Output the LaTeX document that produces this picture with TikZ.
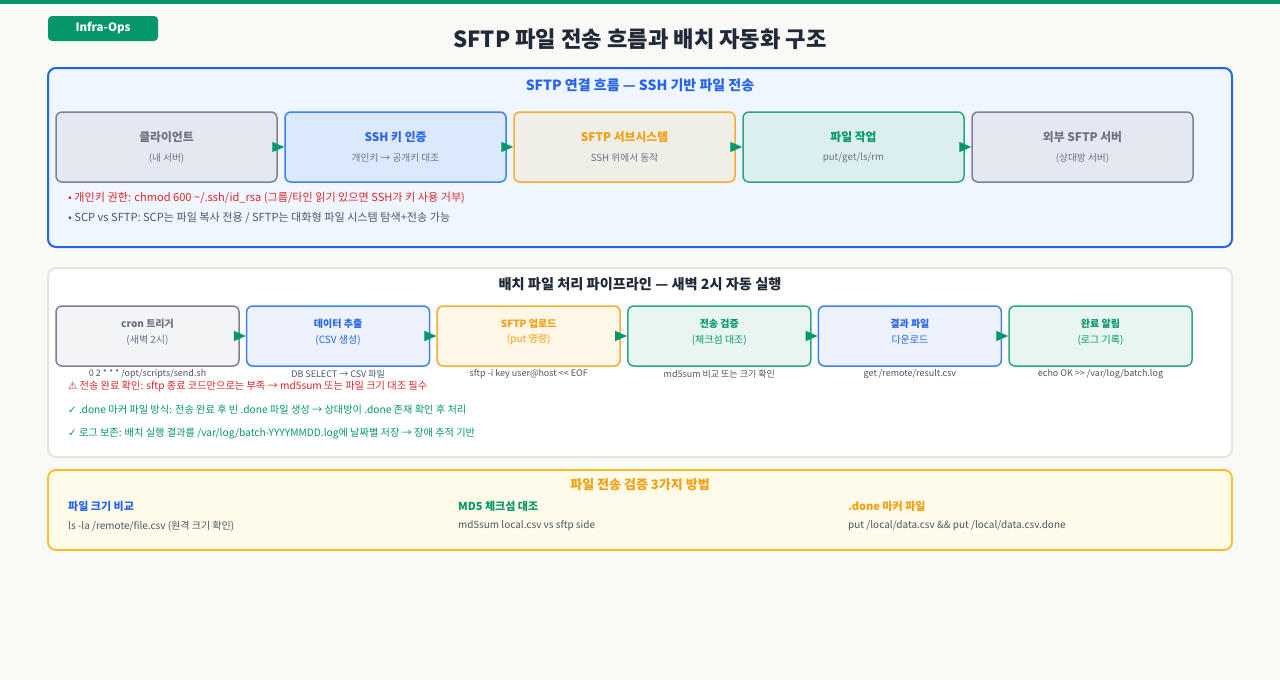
\documentclass[tikz,border=0pt]{standalone}
\usepackage{fontspec}
\setmainfont{Noto Sans CJK KR}
\newfontfamily\sym{DejaVu Sans}
\usetikzlibrary{arrows.meta}
\definecolor{bg}{HTML}{F9F9F5}
\definecolor{gr}{HTML}{059669}
\definecolor{bl}{HTML}{2563EB}
\definecolor{blb}{HTML}{3B82F6}
\definecolor{orn}{HTML}{F59E0B}
\definecolor{gy}{HTML}{6B7280}
\definecolor{gyb}{HTML}{7B8190}
\definecolor{rd}{HTML}{DC2626}
\definecolor{dk}{HTML}{1F2937}
\definecolor{txt}{HTML}{4B5563}
\tikzset{
  sec/.style={rounded corners=8pt},
  boxA/.style={draw, line width=1.5pt, rounded corners=6pt, minimum width=221pt, minimum height=70pt, inner sep=0pt},
  boxB/.style={draw, line width=1.5pt, rounded corners=6pt, minimum width=183pt, minimum height=60pt, inner sep=0pt},
  ttlA/.style={font=\bfseries\fontsize{11.8}{13}\selectfont, inner sep=0pt},
  subA/.style={font=\fontsize{9.7}{11}\selectfont, text=gy, inner sep=0pt},
  ttlB/.style={font=\bfseries\fontsize{10}{12}\selectfont, inner sep=0pt},
  subB/.style={font=\fontsize{10}{12}\selectfont, inner sep=0pt},
  capt/.style={font=\fontsize{9}{10}\selectfont, text=txt, inner sep=0pt},
  note/.style={font=\fontsize{11.1}{13}\selectfont, anchor=west, inner sep=0pt},
  noteB/.style={font=\fontsize{10.2}{12}\selectfont, anchor=west, inner sep=0pt},
  flow/.style={gr, line width=1pt, -{Triangle[length=12pt,width=10pt]}, shorten <=-4pt},
}
\begin{document}
\begin{tikzpicture}[x=1pt,y=-1pt]
\fill[bg] (0,0) rectangle (1280,680);
\useasboundingbox (0,0) rectangle (1280,680);
\fill[gr] (0,0) rectangle (1280,4);
% badge
\node[fill=gr, rounded corners=4pt, minimum width=110pt, minimum height=25pt, inner sep=0pt, text=white, font=\bfseries\fontsize{11.5}{13}\selectfont] (badge) at (103,28.5) {Infra-Ops};
\node[font=\bfseries\fontsize{22.2}{25}\selectfont, text=dk, inner sep=0pt] (title) at (640,39) {SFTP 파일 전송 흐름과 배치 자동화 구조};

% section 1
\draw[sec, fill={rgb,255:red,239;green,246;blue,255}, draw=bl, line width=2pt] (48,68) rectangle (1232,247);
\node[font=\bfseries\fontsize{14}{16}\selectfont, text=bl, inner sep=0pt] (s1t) at (640,85) {SFTP 연결 흐름 — SSH 기반 파일 전송};

\node[boxA, draw=gyb, fill={rgb,255:red,228;green,233;blue,241}] (a1) at (166.5,147) {};
\node[boxA, draw=blb, fill={rgb,255:red,220;green,233;blue,253}] (a2) at (395.5,147) {};
\node[boxA, draw=orn!85, fill={rgb,255:red,240;green,239;blue,231}] (a3) at (624.5,147) {};
\node[boxA, draw=gr!85, fill={rgb,255:red,219;green,239;blue,240}] (a4) at (853.5,147) {};
\node[boxA, draw=gyb, fill={rgb,255:red,228;green,233;blue,241}] (a5) at (1082.5,147) {};

\node[ttlA, text=gy] (a1t) at ([yshift=10pt]a1.center) {클라이언트};
\node[subA] (a1s) at ([yshift=-11pt]a1.center) {(내 서버)};
\node[ttlA, text=bl] (a2t) at ([yshift=10pt]a2.center) {SSH 키 인증};
\node[subA] (a2s) at ([yshift=-11pt]a2.center) {개인키 → 공개키 대조};
\node[ttlA, text=orn] (a3t) at ([yshift=10pt]a3.center) {SFTP 서브시스템};
\node[subA] (a3s) at ([yshift=-11pt]a3.center) {SSH 위에서 동작};
\node[ttlA, text=gr] (a4t) at ([yshift=10pt]a4.center) {파일 작업};
\node[subA] (a4s) at ([yshift=-11pt]a4.center) {put/get/ls/rm};
\node[ttlA, text=gy] (a5t) at ([yshift=10pt]a5.center) {외부 SFTP 서버};
\node[subA] (a5s) at ([yshift=-11pt]a5.center) {(상대방 서버)};

\draw[flow] (a1) -- (a2);
\draw[flow] (a2) -- (a3);
\draw[flow] (a3) -- (a4);
\draw[flow] (a4) -- (a5);

\node[note, text=rd] (n1) at (68,198) {• 개인키 권한: chmod 600 \textasciitilde/.ssh/id\_rsa (그룹/타인 읽기 있으면 SSH가 키 사용 거부)};
\node[note, text=txt] (n2) at (68,218) {• SCP vs SFTP: SCP는 파일 복사 전용 / SFTP는 대화형 파일 시스템 탐색+전송 가능};

% section 2
\draw[sec, fill=white, draw={rgb,255:red,229;green,231;blue,222}, line width=2pt] (48,268) rectangle (1232,457);
\node[font=\bfseries\fontsize{14.2}{16}\selectfont, text=dk, inner sep=0pt] (s2t) at (640,284) {배치 파일 처리 파이프라인 — 새벽 2시 자동 실행};

\node[boxB, draw=gyb, fill={rgb,255:red,243;green,244;blue,246}] (b1) at (147.5,336) {};
\node[boxB, draw=blb, fill={rgb,255:red,237;green,242;blue,253}] (b2) at (338.1,336) {};
\node[boxB, draw=orn!85, fill={rgb,255:red,254;green,246;blue,231}] (b3) at (528.7,336) {};
\node[boxB, draw=gr!85, fill={rgb,255:red,232;green,246;blue,239}] (b4) at (719.3,336) {};
\node[boxB, draw=blb, fill={rgb,255:red,237;green,242;blue,253}] (b5) at (909.9,336) {};
\node[boxB, draw=gr!85, fill={rgb,255:red,232;green,246;blue,239}] (b6) at (1100.5,336) {};

\node[ttlB, text=gy] (b1t) at ([yshift=12pt]b1.center) {cron 트리거};
\node[subB, text=gy] (b1s) at ([yshift=-4pt]b1.center) {(새벽 2시)};
\node[ttlB, text=bl] (b2t) at ([yshift=12pt]b2.center) {데이터 추출};
\node[subB, text=bl] (b2s) at ([yshift=-4pt]b2.center) {(CSV 생성)};
\node[ttlB, text=orn] (b3t) at ([yshift=12pt]b3.center) {SFTP 업로드};
\node[subB, text=orn] (b3s) at ([yshift=-4pt]b3.center) {(put 명령)};
\node[ttlB, text=gr] (b4t) at ([yshift=12pt]b4.center) {전송 검증};
\node[subB, text=gr] (b4s) at ([yshift=-4pt]b4.center) {(체크섬 대조)};
\node[ttlB, text=bl] (b5t) at ([yshift=12pt]b5.center) {결과 파일};
\node[subB, text=bl] (b5s) at ([yshift=-4pt]b5.center) {다운로드};
\node[ttlB, text=gr] (b6t) at ([yshift=12pt]b6.center) {완료 알림};
\node[subB, text=gr] (b6s) at ([yshift=-4pt]b6.center) {(로그 기록)};

\draw[flow] (b1) -- (b2);
\draw[flow] (b2) -- (b3);
\draw[flow] (b3) -- (b4);
\draw[flow] (b4) -- (b5);
\draw[flow] (b5) -- (b6);

\node[capt] (c1) at (147.5,374) {0 2 * * * /opt/scripts/send.sh};
\node[capt] (c2) at (338.1,374) {DB SELECT → CSV 파일};
\node[capt] (c3) at (528.7,374) {sftp -i key user@host <{}< EOF};
\node[capt] (c4) at (719.3,374) {md5sum 비교 또는 크기 확인};
\node[capt] (c5) at (909.9,374) {get /remote/result.csv};
\node[capt] (c6) at (1100.5,374) {echo OK >{}> /var/log/batch.log};

\node[noteB, text=rd] (m1) at (68,386) {{\sym ⚠} 전송 완료 확인: sftp 종료 코드만으로는 부족 → md5sum 또는 파일 크기 대조 필수};
\node[noteB, text=gr] (m2) at (68,410) {{\sym ✓} .done 마커 파일 방식: 전송 완료 후 빈 .done 파일 생성 → 상대방이 .done 존재 확인 후 처리};
\node[noteB, text=gr] (m3) at (68,434) {{\sym ✓} 로그 보존: 배치 실행 결과를 /var/log/batch-YYYYMMDD.log에 날짜별 저장 → 장애 추적 기반};

% section 3
\draw[sec, fill={rgb,255:red,254;green,251;blue,234}, draw={rgb,255:red,251;green,191;blue,36}, line width=1.8pt] (48,470) rectangle (1232,550);
\node[font=\bfseries\fontsize{13}{15}\selectfont, text=orn, inner sep=0pt] (s3t) at (640,485) {파일 전송 검증 3가지 방법};
\node[note, font=\bfseries\fontsize{11}{13}\selectfont, text=bl] (h1) at (68,506) {파일 크기 비교};
\node[noteB, font=\fontsize{10}{12}\selectfont, text=txt] (d1) at (68,526) {ls -la /remote/file.csv (원격 크기 확인)};
\node[note, font=\bfseries\fontsize{11}{13}\selectfont, text=gr] (h2) at (458,506) {MD5 체크섬 대조};
\node[noteB, font=\fontsize{10}{12}\selectfont, text=txt] (d2) at (458,526) {md5sum local.csv vs sftp side};
\node[note, font=\bfseries\fontsize{11}{13}\selectfont, text=orn] (h3) at (848,506) {.done 마커 파일};
\node[noteB, font=\fontsize{10}{12}\selectfont, text=txt] (d3) at (848,526) {put /local/data.csv \&\& put /local/data.csv.done};
\end{tikzpicture}
\end{document}
